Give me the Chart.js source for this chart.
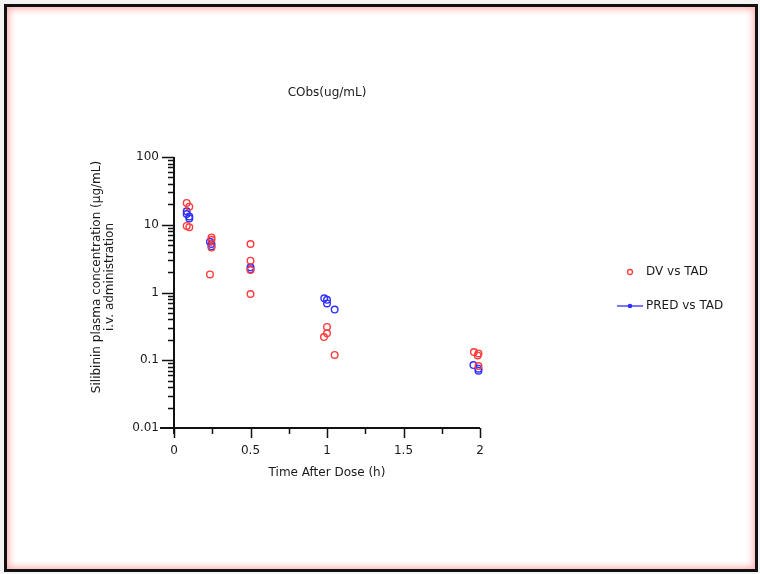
<!DOCTYPE html>
<html>
<head>
<meta charset="utf-8">
<script src="https://cdn.jsdelivr.net/npm/chart.js@4"></script>
<style>
  html, body { margin: 0; padding: 0; background: #f4f4f4; }
  #wrap { position: relative; width: 760px; height: 574px; overflow: hidden; }
  #frame {
    position: absolute; left: 4px; top: 4px; width: 748px; height: 562px;
    border: 3px solid #111; background: #fff;
    box-shadow: inset 0 0 7px 2px rgba(240, 60, 60, 0.4);
  }
  #c { position: absolute; left: 0; top: 0; }
</style>
</head>
<body>
<div id="wrap">
  <div id="frame"></div>
  <canvas id="c" width="760" height="574"></canvas>
</div>
<script>
// observed concentrations (DV) and population predictions (PRED) against time after dose
const dvTime = [0.083, 0.083, 0.1, 0.1, 0.245, 0.245, 0.245, 0.235, 0.5, 0.5, 0.5, 0.5, 1.0, 1.0, 0.98, 1.05, 1.96, 1.99, 1.985, 1.99];
const dvConc = [21.0, 9.6, 18.5, 9.2, 6.5, 6.0, 4.6, 1.85, 5.2, 2.95, 2.15, 0.95, 0.31, 0.25, 0.22, 0.12, 0.132, 0.126, 0.118, 0.082];
const predTime = [0.083, 0.083, 0.1, 0.1, 0.235, 0.245, 0.245, 0.5, 0.5, 0.982, 1.0, 1.0, 1.05, 1.957, 1.99, 1.99];
const predConc = [15.8, 14.4, 13.2, 12.4, 5.6, 5.2, 4.8, 2.35, 2.2, 0.82, 0.78, 0.69, 0.56, 0.085, 0.075, 0.07];

const yTicks = [0.01, 0.1, 1, 10, 100];
const xTicks = [0, 0.5, 1, 1.5, 2];
const xMinor = [0.25, 0.75, 1.25, 1.75];

const chartTitle = 'CObs(ug/mL)';
const xTitle = 'Time After Dose (h)';
const yTitle = ['Silibinin plasma concentration (\u00b5g/mL)', 'i.v. administration'];
const legendNames = ['DV vs TAD', 'PRED vs TAD'];

const RED = '#ff3b3b';
const BLUE = '#2f2fff';
const TEXT = '#1a1a1a';
const FONT = '"DejaVu Sans", sans-serif';

const toPoints = (xs, ys) => xs.map((x, i) => ({ x: x, y: ys[i] }));

// axes, ticks, titles and legend drawn by hand on top of the chart
const decor = {
  id: 'decor',
  afterDraw(chart) {
    const ctx = chart.ctx;
    const xs = chart.scales.x, ys = chart.scales.y;
    const x0 = xs.getPixelForValue(0), x2 = xs.getPixelForValue(2);
    const yb = ys.getPixelForValue(0.01), yt = ys.getPixelForValue(100);
    ctx.save();
    ctx.strokeStyle = '#111';
    ctx.lineWidth = 2;
    ctx.beginPath();
    ctx.moveTo(x0, yt); ctx.lineTo(x0, yb + 6);
    ctx.moveTo(x0 - 14, yb); ctx.lineTo(x2, yb);
    ctx.stroke();
    ctx.lineWidth = 1.5;
    ctx.beginPath();
    // y major + minor ticks
    for (let d = 0; d < yTicks.length; d++) {
      const v = yTicks[d];
      const p = Math.round(ys.getPixelForValue(v)) + 0.5;
      if (v !== 0.01) { ctx.moveTo(x0 - 12, p); ctx.lineTo(x0, p); }
      if (d < yTicks.length - 1) {
        for (let m = 2; m <= 9; m++) {
          const q = Math.round(ys.getPixelForValue(v * m)) + 0.5;
          ctx.moveTo(x0 - 6, q); ctx.lineTo(x0, q);
        }
      }
    }
    // x ticks
    xTicks.forEach(v => {
      const p = Math.round(xs.getPixelForValue(v)) + 0.5;
      ctx.moveTo(p, yb); ctx.lineTo(p, yb + 10);
    });
    xMinor.forEach(v => {
      const p = Math.round(xs.getPixelForValue(v)) + 0.5;
      ctx.moveTo(p, yb); ctx.lineTo(p, yb + 6);
    });
    ctx.stroke();

    ctx.fillStyle = TEXT;
    ctx.font = '12px ' + FONT;
    ctx.textAlign = 'center';
    ctx.textBaseline = 'middle';
    ctx.fillText(chartTitle, (x0 + x2) / 2, 93);
    ctx.fillText(xTitle, (x0 + x2) / 2, 473);

    ctx.save();
    ctx.translate(97, 277);
    ctx.rotate(-Math.PI / 2);
    ctx.fillText(yTitle[0], 0, 0);
    ctx.fillText(yTitle[1], 0, 13);
    ctx.restore();

    // legend
    ctx.textAlign = 'left';
    ctx.lineWidth = 1.3;
    ctx.strokeStyle = RED;
    ctx.beginPath(); ctx.arc(630, 272, 2.5, 0, Math.PI * 2); ctx.stroke();
    ctx.strokeStyle = BLUE;
    ctx.beginPath(); ctx.moveTo(617, 306); ctx.lineTo(643, 306); ctx.stroke();
    ctx.fillStyle = BLUE;
    ctx.beginPath(); ctx.arc(630, 306, 2.3, 0, Math.PI * 2); ctx.fill();
    ctx.fillStyle = TEXT;
    ctx.fillText(legendNames[0], 646, 272);
    ctx.fillText(legendNames[1], 646, 306);
    ctx.restore();
  }
};

new Chart(document.getElementById('c'), {
  type: 'scatter',
  data: {
    datasets: [
      {
        label: legendNames[0],
        data: toPoints(dvTime, dvConc),
        borderColor: RED, backgroundColor: 'rgba(0,0,0,0)',
        pointRadius: 3.3, borderWidth: 1.4, clip: false
      },
      {
        label: legendNames[1],
        data: toPoints(predTime, predConc),
        borderColor: BLUE, backgroundColor: 'rgba(0,0,0,0)',
        pointRadius: 3.3, borderWidth: 1.4, clip: false
      }
    ]
  },
  options: {
    responsive: false,
    animation: false,
    events: [],
    layout: { padding: { left: 114, right: 280, top: 157, bottom: 96 } },
    plugins: { legend: { display: false }, title: { display: false }, tooltip: { enabled: false } },
    scales: {
      x: {
        type: 'linear', min: 0, max: 2,
        afterFit: s => { s.height = 50; },
        grid: { display: false }, border: { display: false },
        ticks: {
          stepSize: 0.5, padding: 8, color: TEXT,
          font: { family: FONT, size: 12 },
          callback: v => xTicks.includes(v) ? String(v) : ''
        }
      },
      y: {
        type: 'logarithmic', min: 0.01, max: 100,
        afterFit: s => { s.width = 60; },
        afterBuildTicks: s => { s.ticks = yTicks.map(v => ({ value: v })); },
        grid: { display: false }, border: { display: false },
        ticks: {
          padding: 7, color: TEXT,
          font: { family: FONT, size: 12 },
          callback: v => String(v)
        }
      }
    }
  },
  plugins: [decor]
});
</script>
</body>
</html>
